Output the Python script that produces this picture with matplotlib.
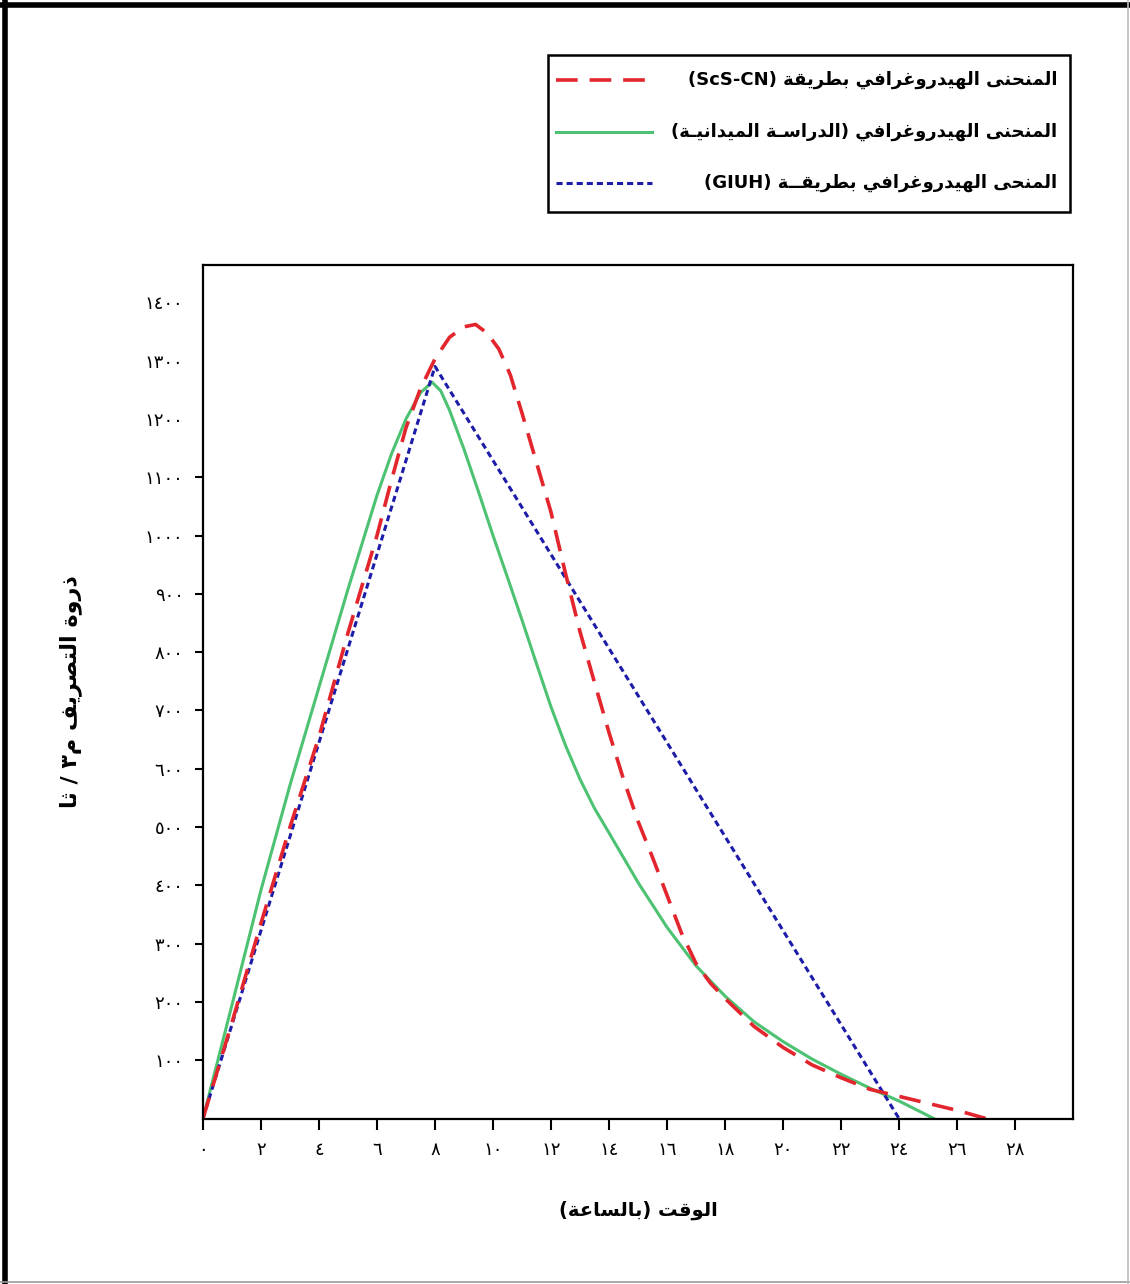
import re
import matplotlib
matplotlib.use("Agg")
import matplotlib.pyplot as plt
from matplotlib.lines import Line2D
from matplotlib.patches import Rectangle

# hydrograph readings (time in hours, discharge m3/s)
scs_t = [0, 1, 2, 3, 4, 5, 6, 6.5, 7, 7.5, 8, 8.5, 9, 9.4, 9.8, 10.2, 10.6, 11,
         11.5, 12, 12.5, 13, 13.5, 14, 14.5, 15, 15.5, 16, 16.5, 17, 17.5, 18,
         19, 20, 21, 22, 23, 24, 25, 26, 27]
scs_q = [0, 165, 335, 500, 655, 833, 1000, 1095, 1185, 1252, 1303, 1340, 1358,
         1362, 1347, 1320, 1275, 1210, 1125, 1040, 935, 835, 748, 662, 582, 510,
         448, 383, 318, 266, 232, 206, 158, 122, 92, 70, 50, 38, 26, 14, 0]

field_t = [0, 1, 2, 3, 4, 5, 6, 6.5, 7, 7.5, 7.9, 8.2, 8.5, 9, 9.5, 10, 10.5,
           11, 11.5, 12, 12.5, 13, 13.5, 14, 15, 16, 17, 18, 19, 20, 21, 22, 23,
           24, 25.2]
field_q = [0, 195, 392, 572, 740, 908, 1069, 1140, 1200, 1245, 1263, 1248, 1215,
           1148, 1075, 1000, 928, 855, 780, 706, 640, 582, 532, 490, 405, 328, 262,
           210, 166, 132, 102, 76, 52, 30, 0]

giuh_t = [0, 8, 24]
giuh_q = [0, 1290, 0]

x_ticks = list(range(0, 29, 2))
y_ticks = list(range(100, 1401, 100))

labels = [
    "المنحنى الهيدروغرافي بطريقة (ScS-CN)",
    "المنحنى الهيدروغرافي (الدراسـة الميدانيـة)",
    "المنحى الهيدروغرافي بطريقــة (GIUH)",
]
x_title = "الوقت (بالساعة)"
y_title = "ذروة التصريف م٣ / ثا"

# --- minimal arabic shaping (matplotlib has no bidi/shaping) ---
FORMS = {
    "ا": (0xFE8D, 0xFE8E, None, None),
    "ب": (0xFE8F, 0xFE90, 0xFE91, 0xFE92),
    "ة": (0xFE93, 0xFE94, None, None),
    "ت": (0xFE95, 0xFE96, 0xFE97, 0xFE98),
    "ث": (0xFE99, 0xFE9A, 0xFE9B, 0xFE9C),
    "ح": (0xFEA1, 0xFEA2, 0xFEA3, 0xFEA4),
    "د": (0xFEA9, 0xFEAA, None, None),
    "ذ": (0xFEAB, 0xFEAC, None, None),
    "ر": (0xFEAD, 0xFEAE, None, None),
    "س": (0xFEB1, 0xFEB2, 0xFEB3, 0xFEB4),
    "ص": (0xFEB9, 0xFEBA, 0xFEBB, 0xFEBC),
    "ط": (0xFEC1, 0xFEC2, 0xFEC3, 0xFEC4),
    "ع": (0xFEC9, 0xFECA, 0xFECB, 0xFECC),
    "غ": (0xFECD, 0xFECE, 0xFECF, 0xFED0),
    "ف": (0xFED1, 0xFED2, 0xFED3, 0xFED4),
    "ق": (0xFED5, 0xFED6, 0xFED7, 0xFED8),
    "ل": (0xFEDD, 0xFEDE, 0xFEDF, 0xFEE0),
    "م": (0xFEE1, 0xFEE2, 0xFEE3, 0xFEE4),
    "ن": (0xFEE5, 0xFEE6, 0xFEE7, 0xFEE8),
    "ه": (0xFEE9, 0xFEEA, 0xFEEB, 0xFEEC),
    "و": (0xFEED, 0xFEEE, None, None),
    "ى": (0xFEEF, 0xFEF0, None, None),
    "ي": (0xFEF1, 0xFEF2, 0xFEF3, 0xFEF4),
}
TATWEEL = "ـ"


def joins_next(c):
    return c == TATWEEL or (c in FORMS and FORMS[c][2] is not None)


def joins_prev(c):
    return c == TATWEEL or c in FORMS


def shape(s):
    out = []
    for i, c in enumerate(s):
        if c not in FORMS:
            out.append(c)
            continue
        iso, fin, ini, med = FORMS[c]
        p = i > 0 and joins_next(s[i - 1])
        n = i < len(s) - 1 and joins_prev(s[i + 1]) and ini is not None
        if p and n:
            out.append(chr(med))
        elif p:
            out.append(chr(fin))
        elif n:
            out.append(chr(ini))
        else:
            out.append(chr(iso))
    return "".join(out)


def visual(s):
    v = shape(s)[::-1]
    v = v.translate(str.maketrans("()", ")("))
    return re.sub(r"[A-Za-z0-9\-]+", lambda m: m.group(0)[::-1], v)


def ar_num(n):
    return str(n).translate(str.maketrans("0123456789", "٠١٢٣٤٥٦٧٨٩"))


plt.rcParams["font.family"] = ["DejaVu Sans"]

W, H = 1130, 1284
fig = plt.figure(figsize=(W / 100, H / 100), dpi=100)


def fx(px):
    return px / W


def fy(py):
    return 1 - py / H


ax = fig.add_axes([fx(203), fy(1118.5), fx(1073) - fx(203), fy(265) - fy(1118.5)])

red = "#e3262d"
green = "#4cc272"
blue = "#1c1ca8"

red_style = dict(color=red, lw=2.6, dashes=(6, 3.3))
green_style = dict(color=green, lw=2.2, ls="-")
blue_style = dict(color=blue, lw=2.2, dashes=(2.0, 1.3))

ax.plot(field_t, field_q, **green_style)
ax.plot(giuh_t, giuh_q, **blue_style)
ax.plot(scs_t, scs_q, **red_style)

ax.set_xlim(0, 30)
ax.set_ylim(0, 1464)
ax.set_xticks(x_ticks)
ax.set_xticklabels([ar_num(v) for v in x_ticks], fontsize=13)
ax.set_yticks(y_ticks)
ax.set_yticklabels([ar_num(v) for v in y_ticks], fontsize=13)
ax.tick_params(axis="x", direction="out", length=8, width=1.5, pad=8)
ax.tick_params(axis="y", direction="out", length=6, width=1.5, pad=8)
for tk in ax.yaxis.get_major_ticks():
    if tk.get_loc() > 1100:
        tk.tick1line.set_visible(False)
for sp in ax.spines.values():
    sp.set_linewidth(1.6)

ax.set_xlabel(visual(x_title), fontsize=14, fontweight="bold", labelpad=30)
ax.set_ylabel(visual(y_title), fontsize=16, fontweight="bold", labelpad=45)

# legend box drawn by hand so the arabic text can sit right-aligned
fig.add_artist(Rectangle((fx(548), fy(212)), fx(1070) - fx(548), fy(55) - fy(212),
                         transform=fig.transFigure, fill=False, ec="black", lw=1.8))
rows = [(80, red_style), (132, green_style), (183, blue_style)]
for (py, st), lab in zip(rows, labels):
    fig.add_artist(Line2D([fx(556), fx(652)], [fy(py), fy(py)],
                          transform=fig.transFigure, **st))
    fig.text(fx(1057), fy(py), visual(lab), ha="right", va="center",
             fontsize=13, fontweight="bold")

# outer frame
fig.add_artist(Line2D([0, 1], [fy(5), fy(5)], transform=fig.transFigure, color="black", lw=4))
fig.add_artist(Line2D([fx(5), fx(5)], [0, 1], transform=fig.transFigure, color="black", lw=4))
fig.add_artist(Line2D([0, 1], [fy(1282), fy(1282)], transform=fig.transFigure, color="#999999", lw=1.2))
fig.add_artist(Line2D([fx(1128), fx(1128)], [0, 1], transform=fig.transFigure, color="#bbbbbb", lw=1.2))

fig.savefig("out.png", dpi=100)
